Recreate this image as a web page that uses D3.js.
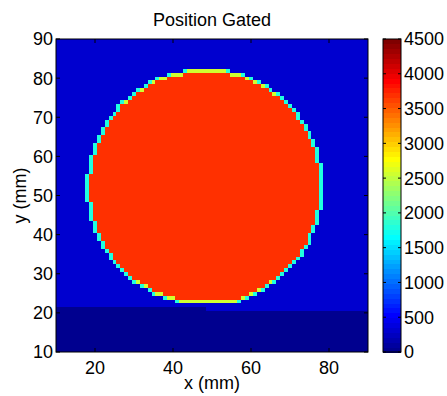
<!DOCTYPE html>
<html>
<head>
<meta charset="utf-8">
<script src="https://cdn.jsdelivr.net/npm/d3@7"></script>
<style>
  body { margin: 0; background: #fff; }
  text { font-family: "Liberation Sans", Arial, Helvetica, sans-serif; fill: #000; }
</style>
</head>
<body>
<svg id="chart" width="447" height="396"></svg>
<script>
// ---- data (mm, counts) ----
const xTicks = [20, 40, 60, 80];
const yTicks = [10, 20, 30, 40, 50, 60, 70, 80, 90];
const cbTicks = [0, 500, 1000, 1500, 2000, 2500, 3000, 3500, 4000, 4500];
const pixelCenters = d3.range(10, 91); // 1 mm bins, 10..90

// disk rows: [y, first x, last x]
const diskRows = [
  [82, 43, 54], [81, 39, 58], [80, 36, 60], [79, 34, 62], [78, 33, 64],
  [77, 31, 65], [76, 30, 67], [75, 29, 68], [74, 27, 69], [73, 26, 70],
  [72, 26, 71], [71, 25, 72], [70, 24, 72], [69, 23, 73], [68, 23, 74],
  [67, 22, 74], [66, 22, 75], [65, 21, 75], [64, 21, 76], [63, 20, 76],
  [62, 20, 77], [61, 20, 77], [60, 19, 77], [59, 19, 77], [58, 19, 78],
  [57, 19, 78], [56, 19, 78], [55, 18, 78], [54, 18, 78], [53, 18, 78],
  [52, 18, 78], [51, 18, 78], [50, 18, 78], [49, 18, 78], [48, 19, 78],
  [47, 19, 78], [46, 19, 77], [45, 19, 77], [44, 19, 77], [43, 20, 77],
  [42, 20, 76], [41, 20, 76], [40, 21, 75], [39, 21, 75], [38, 22, 75],
  [37, 22, 74], [36, 23, 73], [35, 24, 73], [34, 24, 72], [33, 25, 71],
  [32, 26, 70], [31, 27, 69], [30, 28, 68], [29, 29, 67], [28, 30, 66],
  [27, 32, 64], [26, 34, 63], [25, 35, 61], [24, 38, 59], [23, 41, 57]
];
const diskCenterRow = 52;

// low-count floor strip: [first x, last x, top y]
const floorBands = [[10, 48, 21], [49, 90, 20]];

const insideLevel = 3700;
const ringInnerLevel = 2600;
const ringOuterLevel = 1800;
const backgroundLevel = 330;
const floorLevel = 40;
const cMax = 4500;

// ---- layout ----
const svg = d3.select('#chart');
const pL = 56, pR = 368, pT = 39, pB = 352;
const x = d3.scaleLinear().domain([10, 90]).range([pL, pR]);
const y = d3.scaleLinear().domain([10, 90]).range([pB, pT]);
const cb = { x0: 383, x1: 401 };
const cbY = d3.scaleLinear().domain([0, cMax]).range([pB, pT]);

// MATLAB jet(64)
const nColors = 64;
const clamp = v => Math.max(0, Math.min(1, v));
const jet = d3.range(nColors).map(i => {
  const t = (i + 1) / nColors;
  const r = clamp(Math.min(4 * t - 1.5, -4 * t + 4.5));
  const g = clamp(Math.min(4 * t - 0.5, -4 * t + 3.5));
  const b = clamp(Math.min(4 * t + 0.5, -4 * t + 2.5));
  return d3.rgb(r * 255, g * 255, b * 255).toString();
});
const color = v => jet[Math.max(0, Math.min(nColors - 1, Math.floor(v / cMax * nColors)))];

// build cells
const rowMap = new Map(diskRows.map(d => [d[0], d]));
function cellValue(cx, cy) {
  const row = rowMap.get(cy);
  if (row && cx >= row[1] && cx <= row[2]) {
    if (cx === row[1] || cx === row[2]) return ringOuterLevel;
    const outer = rowMap.get(cy > diskCenterRow ? cy + 1 : cy - 1);
    if (!outer || cx < outer[1] || cx > outer[2]) return ringInnerLevel;
    return insideLevel;
  }
  for (const f of floorBands) {
    if (cx >= f[0] && cx <= f[1] && cy <= f[2]) return floorLevel;
  }
  return backgroundLevel;
}
const cells = [];
pixelCenters.forEach(cy => pixelCenters.forEach(cx => cells.push({ cx, cy, v: cellValue(cx, cy) })));

svg.append('clipPath').attr('id', 'plotClip')
  .append('rect').attr('x', pL).attr('y', pT).attr('width', pR - pL).attr('height', pB - pT);

svg.append('g').attr('clip-path', 'url(#plotClip)')
  .selectAll('rect').data(cells).enter().append('rect')
  .attr('x', d => x(d.cx - 0.5))
  .attr('y', d => y(d.cy + 0.5))
  .attr('width', x(1) - x(0) + 0.4)
  .attr('height', y(0) - y(1) + 0.4)
  .attr('fill', d => color(d.v))
  .attr('shape-rendering', 'crispEdges');

// axes box + inward ticks
const tickLen = 4;
const axes = svg.append('g').attr('stroke', '#000').attr('stroke-width', 1).attr('fill', 'none');
axes.append('rect').attr('x', pL).attr('y', pT).attr('width', pR - pL).attr('height', pB - pT);
xTicks.forEach(t => {
  axes.append('line').attr('x1', x(t)).attr('x2', x(t)).attr('y1', pB).attr('y2', pB - tickLen);
  axes.append('line').attr('x1', x(t)).attr('x2', x(t)).attr('y1', pT).attr('y2', pT + tickLen);
});
yTicks.forEach(t => {
  axes.append('line').attr('x1', pL).attr('x2', pL + tickLen).attr('y1', y(t)).attr('y2', y(t));
  axes.append('line').attr('x1', pR).attr('x2', pR - tickLen).attr('y1', y(t)).attr('y2', y(t));
});

svg.selectAll('.xt').data(xTicks).enter().append('text')
  .attr('x', d => x(d)).attr('y', 374).attr('text-anchor', 'middle')
  .attr('font-size', 18).text(d => d);
svg.selectAll('.yt').data(yTicks).enter().append('text')
  .attr('x', pL - 3).attr('y', d => y(d)).attr('dy', '0.36em').attr('text-anchor', 'end')
  .attr('font-size', 18).text(d => d);

svg.append('text').attr('x', (pL + pR) / 2).attr('y', 389).attr('text-anchor', 'middle')
  .attr('font-size', 18).text('x (mm)');
svg.append('text').attr('transform', `translate(26,${(pT + pB) / 2}) rotate(-90)`)
  .attr('text-anchor', 'middle').attr('font-size', 18).text('y (mm)');
svg.append('text').attr('x', (pL + pR) / 2).attr('y', 26).attr('text-anchor', 'middle')
  .attr('font-size', 18).text('Position Gated');

// colorbar
const cbStep = cMax / nColors;
svg.append('g').selectAll('rect').data(jet).enter().append('rect')
  .attr('x', cb.x0)
  .attr('y', (d, i) => cbY((i + 1) * cbStep))
  .attr('width', cb.x1 - cb.x0)
  .attr('height', cbY(0) - cbY(cbStep) + 0.5)
  .attr('fill', d => d)
  .attr('shape-rendering', 'crispEdges');
const cbAxis = svg.append('g').attr('stroke', '#000').attr('fill', 'none');
cbAxis.append('rect').attr('x', cb.x0).attr('y', pT).attr('width', cb.x1 - cb.x0).attr('height', pB - pT);
cbTicks.forEach(t => {
  cbAxis.append('line').attr('x1', cb.x1).attr('x2', cb.x1 - 3).attr('y1', cbY(t)).attr('y2', cbY(t));
  cbAxis.append('line').attr('x1', cb.x0).attr('x2', cb.x0 + 3).attr('y1', cbY(t)).attr('y2', cbY(t));
});
svg.selectAll('.ct').data(cbTicks).enter().append('text')
  .attr('x', cb.x1 + 3).attr('y', d => cbY(d)).attr('dy', '0.36em')
  .attr('font-size', 18).text(d => d);
</script>
</body>
</html>
